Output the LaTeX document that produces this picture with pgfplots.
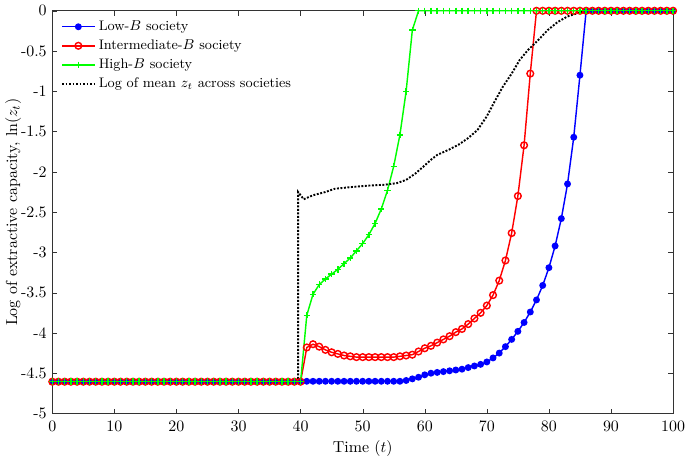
\documentclass[border=0pt]{standalone}
\usepackage{pgfplots}
\pgfplotsset{compat=1.18}
\begin{document}
\begin{tikzpicture}[trim right=(rb)]
\begin{axis}[
    scale only axis,
    width=390pt, height=253pt,
    xmin=0, xmax=100, ymin=-5, ymax=0,
    xtick={0,10,...,100},
    ytick={-5,-4.5,-4,-3.5,-3,-2.5,-2,-1.5,-1,-0.5,0},
    /pgf/number format/assume math mode=true,
    tick align=inside,
    major tick length=3pt,
    axis line style={black!80},
    tick style={black!80},
    xticklabel style={yshift=-1pt},
    xlabel={Time ($t$)},
    ylabel={Log of extractive capacity, $\ln(z_t)$},
    xlabel style={yshift=1.5pt},
    ylabel style={yshift=-7pt},
    legend style={draw=none, fill=none, at={(0.006,0.992)}, anchor=north west,
        font=\fontsize{8.7}{10}\selectfont, row sep=0.3pt},
    legend cell align=left,
    legend image code/.code={\draw[mark repeat=2,mark phase=2,#1]
        plot coordinates {(0cm,0cm) (0.36cm,0cm) (0.72cm,0cm)};},
]
% Low-B society
\addplot[blue, line width=0.9pt, mark=*, mark size=1.7pt] coordinates {
(0,-4.605)(1,-4.605)(2,-4.605)(3,-4.605)(4,-4.605)(5,-4.605)(6,-4.605)(7,-4.605)(8,-4.605)(9,-4.605)
(10,-4.605)(11,-4.605)(12,-4.605)(13,-4.605)(14,-4.605)(15,-4.605)(16,-4.605)(17,-4.605)(18,-4.605)(19,-4.605)
(20,-4.605)(21,-4.605)(22,-4.605)(23,-4.605)(24,-4.605)(25,-4.605)(26,-4.605)(27,-4.605)(28,-4.605)(29,-4.605)
(30,-4.605)(31,-4.605)(32,-4.605)(33,-4.605)(34,-4.605)(35,-4.605)(36,-4.605)(37,-4.605)(38,-4.605)(39,-4.605)
(40,-4.605)(41,-4.60)(42,-4.60)(43,-4.60)(44,-4.60)(45,-4.60)(46,-4.60)(47,-4.60)(48,-4.60)(49,-4.60)
(50,-4.60)(51,-4.60)(52,-4.60)(53,-4.60)(54,-4.60)(55,-4.60)(56,-4.60)(57,-4.59)(58,-4.57)(59,-4.55)
(60,-4.52)(61,-4.50)(62,-4.49)(63,-4.48)(64,-4.47)(65,-4.46)(66,-4.45)(67,-4.43)(68,-4.41)(69,-4.39)
(70,-4.36)(71,-4.31)(72,-4.25)(73,-4.17)(74,-4.08)(75,-3.98)(76,-3.87)(77,-3.74)(78,-3.59)(79,-3.41)
(80,-3.19)(81,-2.92)(82,-2.58)(83,-2.15)(84,-1.57)(85,-0.80)(86,0)(87,0)(88,0)(89,0)
(90,0)(91,0)(92,0)(93,0)(94,0)(95,0)(96,0)(97,0)(98,0)(99,0)(100,0)
};
\addlegendentry{Low-$B$ society}
% Intermediate-B society
\addplot[red, line width=0.9pt, mark=o, mark size=2.1pt] coordinates {
(0,-4.605)(1,-4.605)(2,-4.605)(3,-4.605)(4,-4.605)(5,-4.605)(6,-4.605)(7,-4.605)(8,-4.605)(9,-4.605)
(10,-4.605)(11,-4.605)(12,-4.605)(13,-4.605)(14,-4.605)(15,-4.605)(16,-4.605)(17,-4.605)(18,-4.605)(19,-4.605)
(20,-4.605)(21,-4.605)(22,-4.605)(23,-4.605)(24,-4.605)(25,-4.605)(26,-4.605)(27,-4.605)(28,-4.605)(29,-4.605)
(30,-4.605)(31,-4.605)(32,-4.605)(33,-4.605)(34,-4.605)(35,-4.605)(36,-4.605)(37,-4.605)(38,-4.605)(39,-4.605)
(40,-4.605)(41,-4.18)(42,-4.14)(43,-4.17)(44,-4.21)(45,-4.24)(46,-4.26)(47,-4.28)(48,-4.29)(49,-4.30)
(50,-4.30)(51,-4.30)(52,-4.30)(53,-4.30)(54,-4.30)(55,-4.30)(56,-4.29)(57,-4.28)(58,-4.27)(59,-4.23)
(60,-4.19)(61,-4.16)(62,-4.12)(63,-4.08)(64,-4.04)(65,-3.99)(66,-3.95)(67,-3.89)(68,-3.82)(69,-3.75)
(70,-3.66)(71,-3.53)(72,-3.35)(73,-3.10)(74,-2.76)(75,-2.30)(76,-1.67)(77,-0.78)(78,0)(79,0)
(80,0)(81,0)(82,0)(83,0)(84,0)(85,0)(86,0)(87,0)(88,0)(89,0)
(90,0)(91,0)(92,0)(93,0)(94,0)(95,0)(96,0)(97,0)(98,0)(99,0)(100,0)
};
\addlegendentry{Intermediate-$B$ society}
% High-B society
\addplot[green, line width=0.9pt, mark=+, mark size=2pt] coordinates {
(0,-4.605)(1,-4.605)(2,-4.605)(3,-4.605)(4,-4.605)(5,-4.605)(6,-4.605)(7,-4.605)(8,-4.605)(9,-4.605)
(10,-4.605)(11,-4.605)(12,-4.605)(13,-4.605)(14,-4.605)(15,-4.605)(16,-4.605)(17,-4.605)(18,-4.605)(19,-4.605)
(20,-4.605)(21,-4.605)(22,-4.605)(23,-4.605)(24,-4.605)(25,-4.605)(26,-4.605)(27,-4.605)(28,-4.605)(29,-4.605)
(30,-4.605)(31,-4.605)(32,-4.605)(33,-4.605)(34,-4.605)(35,-4.605)(36,-4.605)(37,-4.605)(38,-4.605)(39,-4.605)
(40,-4.605)(41,-3.78)(42,-3.52)(43,-3.40)(44,-3.33)(45,-3.27)(46,-3.21)(47,-3.14)(48,-3.07)(49,-2.98)
(50,-2.89)(51,-2.78)(52,-2.64)(53,-2.46)(54,-2.23)(55,-1.93)(56,-1.54)(57,-1.00)(58,-0.24)(59,0)
(60,0)(61,0)(62,0)(63,0)(64,0)(65,0)(66,0)(67,0)(68,0)(69,0)
(70,0)(71,0)(72,0)(73,0)(74,0)(75,0)(76,0)(77,0)(78,0)(79,0)
(80,0)(81,0)(82,0)(83,0)(84,0)(85,0)(86,0)(87,0)(88,0)(89,0)
(90,0)(91,0)(92,0)(93,0)(94,0)(95,0)(96,0)(97,0)(98,0)(99,0)(100,0)
};
\addlegendentry{High-$B$ society}
% Log of mean z_t
\addplot[black, line width=1.2pt, densely dotted] coordinates {
(0,-4.605)(39.6,-4.605)(39.6,-2.25)(40.5,-2.34)(42,-2.29)(44,-2.25)(45.5,-2.21)(48,-2.19)
(51,-2.17)(53.5,-2.16)(55.5,-2.14)(57,-2.10)(58.5,-2.02)(60,-1.92)(61,-1.85)(62,-1.79)
(64,-1.72)(65.5,-1.66)(67,-1.58)(68.5,-1.48)(70,-1.31)(71.3,-1.12)(72.6,-0.94)(74,-0.78)
(75.3,-0.61)(76.6,-0.49)(78.2,-0.37)(79.8,-0.24)(81.4,-0.14)(83,-0.07)(84.6,-0.03)(86,0)(100,0)
};
\addlegendentry{Log of mean $z_t$ across societies}
\path (rel axis cs:1,0) ++(7.5pt,0pt) coordinate (rb);
\end{axis}
\end{tikzpicture}
\end{document}
